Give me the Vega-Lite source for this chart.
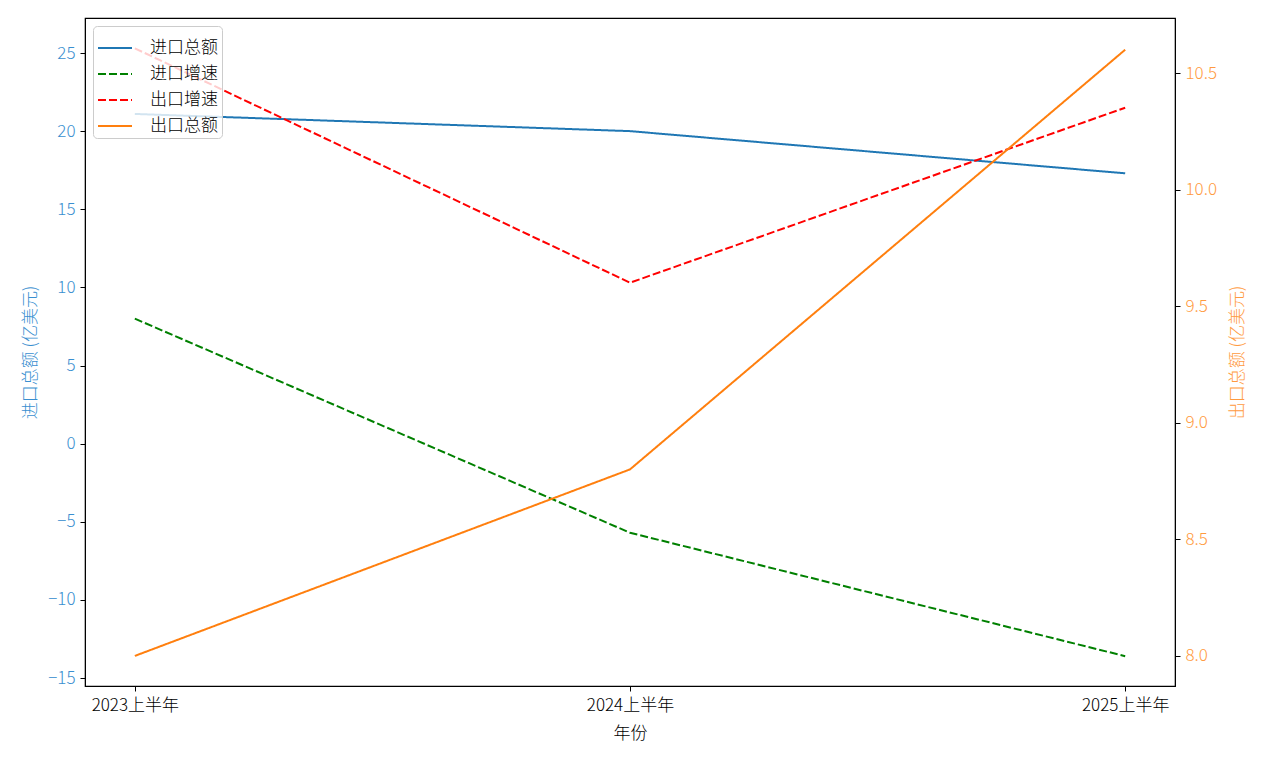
{
  "$schema": "https://vega.github.io/schema/vega-lite/v6.json",
  "width": 1090,
  "height": 668,
  "autosize": {"type": "none"},
  "padding": {"left": 85, "top": 18, "right": 94, "bottom": 76},
  "background": "white",
  "config": {
    "font": "Noto Sans CJK SC",
    "view": {"stroke": "black", "strokeWidth": 1.2},
    "axis": {
      "grid": false,
      "domainColor": "black",
      "tickColor": "black",
      "tickSize": 5,
      "labelFontSize": 17,
      "titleFontSize": 17,
      "titleFontWeight": 300,
      "labelFontWeight": 300,
      "labelFont": "Noto Sans CJK SC",
      "titleFont": "Noto Sans CJK SC",
      "labelPadding": 5
    },
    "legend": {
      "labelFont": "Noto Sans CJK SC",
      "labelFontSize": 17,
      "labelFontWeight": 300
    }
  },
  "data": {
    "values": [
      {"period": "2023上半年", "series": "进口总额", "value": 21.1},
      {"period": "2024上半年", "series": "进口总额", "value": 20.0},
      {"period": "2025上半年", "series": "进口总额", "value": 17.3},
      {"period": "2023上半年", "series": "进口增速", "value": 8.0},
      {"period": "2024上半年", "series": "进口增速", "value": -5.7},
      {"period": "2025上半年", "series": "进口增速", "value": -13.6},
      {"period": "2023上半年", "series": "出口增速", "value": 25.3},
      {"period": "2024上半年", "series": "出口增速", "value": 10.3},
      {"period": "2025上半年", "series": "出口增速", "value": 21.5},
      {"period": "2023上半年", "series": "出口总额", "value": 8.0},
      {"period": "2024上半年", "series": "出口总额", "value": 8.8},
      {"period": "2025上半年", "series": "出口总额", "value": 10.6}
    ]
  },
  "layer": [
    {
      "transform": [{"filter": "datum.series !== '出口总额'"}],
      "mark": {"type": "line", "strokeWidth": 2},
      "encoding": {
        "x": {
          "field": "period", "type": "ordinal",
          "scale": {"type": "point", "padding": 0.1006},
          "sort": null,
          "axis": {"title": "年份", "labelAngle": 0, "titleColor": "black", "labelColor": "black", "labelPadding": 6, "titlePadding": 12}
        },
        "y": {
          "field": "value", "type": "quantitative",
          "scale": {"domain": [-15.51, 27.24], "nice": false, "zero": false},
          "axis": {
            "title": "进口总额 (亿美元)",
            "values": [-15, -10, -5, 0, 5, 10, 15, 20, 25],
            "labelColor": "#3a8fd0",
            "titleColor": "#3a8fd0",
            "titlePadding": 8
          }
        },
        "color": {
          "field": "series", "type": "nominal",
          "scale": {"domain": ["进口总额", "进口增速", "出口增速", "出口总额"], "range": ["#1f77b4", "#008000", "#ff0000", "#ff7f0e"]},
          "legend": {
            "title": null,
            "orient": "none",
            "legendX": 8,
            "legendY": 8,
            "symbolType": "stroke",
            "symbolSize": 1156,
            "symbolStrokeWidth": 2,
            "labelOffset": 17,
            "rowPadding": -7,
            "padding": 4,
            "fillColor": "rgba(255,255,255,0.8)",
            "strokeColor": "#cccccc",
            "cornerRadius": 4,
            "labelColor": "black"
          }
        },
        "strokeDash": {
          "field": "series", "type": "nominal",
          "scale": {"domain": ["进口总额", "进口增速", "出口增速", "出口总额"], "range": [[1, 0], [8, 3], [8, 3], [1, 0]]},
          "legend": {
            "title": null,
            "orient": "none",
            "legendX": 8,
            "legendY": 8,
            "symbolType": "stroke",
            "symbolSize": 1156,
            "symbolStrokeWidth": 2,
            "labelOffset": 17,
            "rowPadding": -7,
            "padding": 4,
            "fillColor": "rgba(255,255,255,0.8)",
            "strokeColor": "#cccccc",
            "cornerRadius": 4,
            "labelColor": "black"
          }
        }
      }
    },
    {
      "transform": [{"filter": "datum.series === '出口总额'"}],
      "mark": {"type": "line", "strokeWidth": 2},
      "encoding": {
        "x": {"field": "period", "type": "ordinal", "sort": null},
        "y": {
          "field": "value", "type": "quantitative",
          "scale": {"domain": [7.871, 10.736], "nice": false, "zero": false},
          "axis": {
            "orient": "right",
            "title": "出口总额 (亿美元)",
            "titleAngle": 270,
            "values": [8.0, 8.5, 9.0, 9.5, 10.0, 10.5],
            "format": ".1f",
            "labelColor": "#ff9a40",
            "titleColor": "#ff9a40",
            "titlePadding": 30
          }
        },
        "color": {"field": "series", "type": "nominal"},
        "strokeDash": {"field": "series", "type": "nominal"}
      }
    }
  ],
  "resolve": {"scale": {"y": "independent"}}
}
